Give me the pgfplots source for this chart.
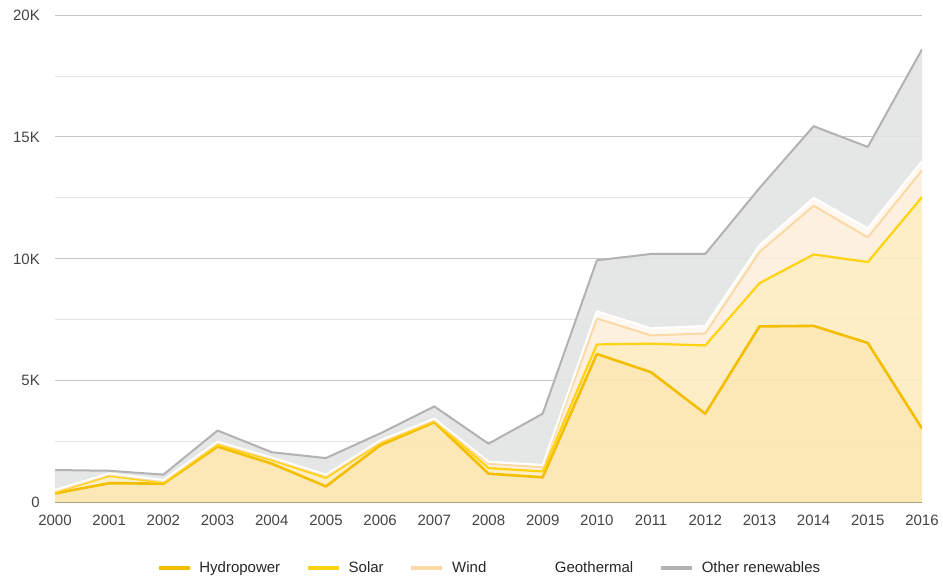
\documentclass[border=0pt]{standalone}
\usepackage{fontspec}
\setmainfont{Liberation Sans}
\usepackage{pgfplots}
\pgfplotsset{compat=1.18}
\usepgfplotslibrary{fillbetween}
\usepackage{pgfplotstable}
\definecolor{hydroline}{HTML}{F4BE00}
\definecolor{solarline}{HTML}{FFD30F}
\definecolor{windline}{HTML}{FBD9A6}
\definecolor{otherline}{HTML}{B2B2B2}
\definecolor{hydrofill}{HTML}{FCE6AE}
\definecolor{solarfill}{HTML}{FDECC0}
\definecolor{windfill}{HTML}{FDEEDC}
\definecolor{otherfill}{HTML}{E2E4E4}
\definecolor{ticktext}{HTML}{444444}
% stack tops (cumulative)
\pgfplotstableread{
year H HS HSW HSWG T
2000 380 430 470 520 1340
2001 800 1100 1150 1200 1310
2002 780 830 880 930 1150
2003 2300 2380 2450 2500 2960
2004 1600 1750 1800 1850 2070
2005 670 1020 1100 1150 1830
2006 2350 2450 2500 2550 2840
2007 3300 3350 3400 3450 3950
2008 1190 1420 1600 1680 2420
2009 1040 1280 1450 1550 3650
2010 6100 6490 7550 7850 9940
2011 5350 6520 6860 7150 10200
2012 3650 6450 6940 7250 10200
2013 7230 9000 10280 10550 12900
2014 7250 10180 12180 12500 15440
2015 6550 9870 10880 11250 14590
2016 3040 12530 13630 14000 18590
}\data
\begin{document}
\begin{tikzpicture}
\begin{axis}[
  at={(55pt,76.3pt)}, anchor=south west,
  scale only axis, width=867pt, height=487.7pt,
  xmin=2000, xmax=2016, ymin=0, ymax=20000,
  axis x line*=bottom, axis y line*=left,
  axis line style={-},
  x axis line style={draw=black!75, line width=1pt},
  y axis line style={draw=none},
  xtick={2000,2001,...,2016},
  xticklabels={2000,2001,2002,2003,2004,2005,2006,2007,2008,2009,2010,2011,2012,2013,2014,2015,2016},
  ytick={0,5000,10000,15000,20000},
  yticklabels={0,5K,10K,15K,20K},
  minor ytick={2500,7500,12500,17500},
  scaled y ticks=false,
  major tick length=0pt, minor tick length=0pt,
  ymajorgrids, yminorgrids,
  major grid style={draw=black!22, line width=0.9pt},
  minor grid style={draw=black!11, line width=0.9pt},
  ticklabel style={font=\fontsize{15}{18}\selectfont, text=ticktext, inner sep=0pt},
  yticklabel style={anchor=east, xshift=-15pt},
  xticklabel style={anchor=north, yshift=-12pt},
  legend style={at={(0.5,-0.134)}, anchor=center, draw=none, fill=none,
    font=\fontsize{15}{18}\selectfont, text=black!85,
    nodes={inner sep=0pt},
    /tikz/every odd column/.append style={column sep=8pt},
    /tikz/every even column/.append style={column sep=26pt}},
  legend columns=5,
  legend image code/.code={\draw[#1, line width=3.5pt] (0pt,0pt) -- (31pt,0pt);},
]
\addplot[draw=none, name path=base, forget plot] coordinates {(2000,0) (2016,0)};
\addplot[draw=none, name path=H, forget plot] table[x=year,y=H] {\data};
\addplot[draw=none, name path=HS, forget plot] table[x=year,y=HS] {\data};
\addplot[draw=none, name path=HSW, forget plot] table[x=year,y=HSW] {\data};
\addplot[draw=none, name path=HSWG, forget plot] table[x=year,y=HSWG] {\data};
\addplot[draw=none, name path=T, forget plot] table[x=year,y=T] {\data};
\addplot[fill=hydrofill, fill opacity=0.9, forget plot] fill between[of=H and base];
\addplot[fill=solarfill, fill opacity=0.9, forget plot] fill between[of=HS and H];
\addplot[fill=windfill, fill opacity=0.9, forget plot] fill between[of=HSW and HS];
\addplot[fill=white!60!windfill, forget plot] fill between[of=HSWG and HSW];
\addplot[fill=otherfill, fill opacity=0.9, forget plot] fill between[of=T and HSWG];
\addplot[hydroline, line width=2.6pt, line join=round] table[x=year,y=H] {\data};
\addplot[solarline, line width=2.2pt, line join=round] table[x=year,y=HS] {\data};
\addplot[windline, line width=2pt, line join=round] table[x=year,y=HSW] {\data};
\addplot[white, line width=2pt, line join=round] table[x=year,y=HSWG] {\data};
\addplot[otherline, line width=2pt, line join=round] table[x=year,y=T] {\data};
\legend{Hydropower,Solar,Wind,Geothermal,Other renewables}
\end{axis}
\path (0pt,0pt) rectangle (943pt,579pt);
\end{tikzpicture}
\end{document}
